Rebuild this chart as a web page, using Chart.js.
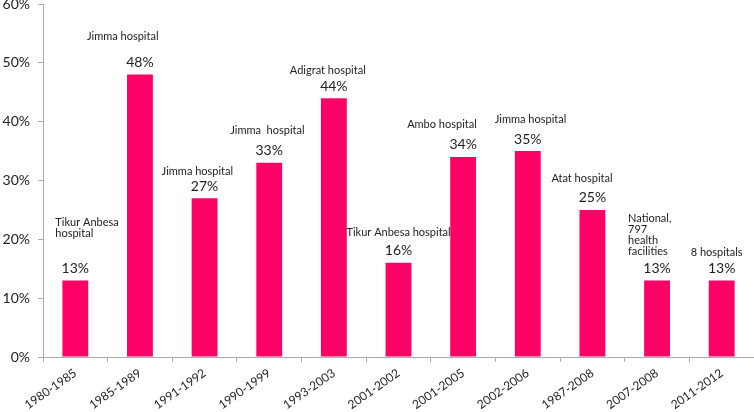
<!DOCTYPE html>
<html>
<head>
<meta charset="utf-8">
<script src="https://cdn.jsdelivr.net/npm/chart.js@4"></script>
<style>
  html, body { margin: 0; padding: 0; background: #fff; }
  #wrap { width: 754px; height: 412px; }
</style>
</head>
<body>
<div id="wrap"><canvas id="chart" width="754" height="412"></canvas></div>
<script>
// данные с картинки
const periods = ['1980-1985', '1985-1989', '1991-1992', '1990-1999', '1993-2003', '2001-2002',
                 '2001-2005', '2002-2006', '1987-2008', '2007-2008', '2011-2012'];
const rates = [13, 48, 27, 33, 44, 16, 34, 35, 25, 13, 13];
const sites = [
    ['Tikur Anbesa', 'hospital'],
    ['Jimma hospital'],
    ['Jimma hospital'],
    ['Jimma  hospital'],
    ['Adigrat hospital'],
    ['Tikur Anbesa hospital'],
    ['Ambo hospital'],
    ['Jimma hospital'],
    ['Atat hospital'],
    ['National,', '797', 'health', 'facilities'],
    ['8 hospitals']
];
const yTicks = [0, 10, 20, 30, 40, 50, 60];

// сдвиги подписей больниц (только раскладка)
const noteDx = [-20, -53, -43, -39, -44, -52, -56, -33, -41, -29, -31];
const noteGap = [35, 26, 15, 20, 16, 18, 21, 20, 19, 17, 16];

// плагин: значения над столбцами и названия больниц
const barNotes = {
    id: 'barNotes',
    afterDatasetsDraw(chart) {
        const ctx = chart.ctx;
        const meta = chart.getDatasetMeta(0);
        ctx.save();
        ctx.fillStyle = '#222';
        meta.data.forEach((bar, i) => {
            const valY = bar.y - 12;
            ctx.font = '14px Lato, "Open Sans", sans-serif';
            ctx.textAlign = 'center';
            ctx.textBaseline = 'middle';
            ctx.fillText(rates[i] + '%', bar.x, valY);

            ctx.font = '11px Lato, "Open Sans", sans-serif';
            ctx.textAlign = 'left';
            const lines = sites[i];
            const lastY = valY - noteGap[i];
            lines.forEach((line, k) => {
                const y = lastY - (lines.length - 1 - k) * 11;
                ctx.fillText(line, bar.x + noteDx[i], y);
            });
        });
        ctx.restore();
    }
};

const ctx = document.getElementById('chart').getContext('2d');
new Chart(ctx, {
    type: 'bar',
    data: {
        labels: periods,
        datasets: [{
            data: rates,
            backgroundColor: '#FF0066',
            borderWidth: 0,
            categoryPercentage: 1,
            barPercentage: 0.4
        }]
    },
    options: {
        responsive: false,
        animation: false,
        layout: { padding: { top: 4, right: 0, left: 0, bottom: 0 } },
        plugins: {
            legend: { display: false },
            tooltip: { enabled: false }
        },
        scales: {
            x: {
                offset: true,
                grid: {
                    offset: true,
                    drawOnChartArea: false,
                    drawTicks: true,
                    tickLength: 5,
                    color: '#aaa'
                },
                border: { color: '#aaa' },
                ticks: {
                    minRotation: 35,
                    maxRotation: 35,
                    autoSkip: false,
                    padding: 4,
                    color: '#222',
                    font: { family: 'Lato, "Open Sans", sans-serif', size: 12 }
                },
                afterFit(scale) {
                    scale.height = 55;
                    scale.paddingLeft = 0;
                    scale.paddingRight = 0;
                }
            },
            y: {
                min: 0,
                max: 60,
                afterBuildTicks(scale) {
                    scale.ticks = yTicks.map(v => ({ value: v }));
                },
                grid: {
                    drawOnChartArea: false,
                    drawTicks: true,
                    tickLength: 5,
                    color: '#aaa'
                },
                border: { color: '#aaa' },
                ticks: {
                    padding: 8,
                    color: '#222',
                    font: { family: 'Lato, "Open Sans", sans-serif', size: 14 },
                    callback: v => v + '%'
                },
                afterFit(scale) {
                    scale.width = 43;
                    scale.paddingTop = 0;
                    scale.paddingBottom = 0;
                }
            }
        }
    },
    plugins: [barNotes]
});
</script>
</body>
</html>
